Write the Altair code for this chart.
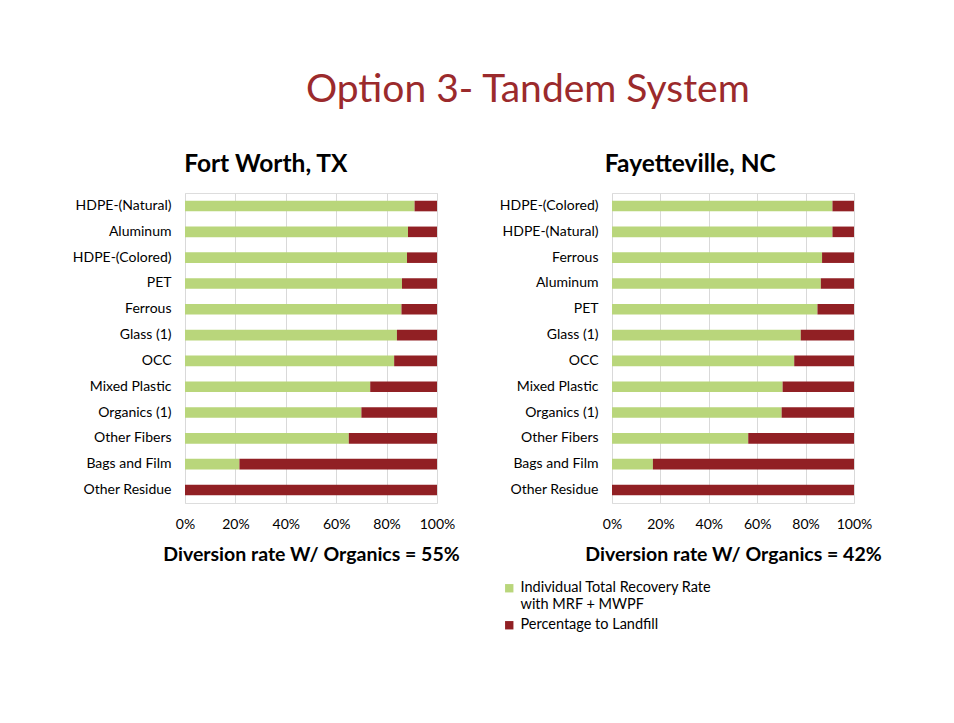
import altair as alt
import pandas as pd

# ---------------- data ----------------
series = ["Individual Total Recovery Rate with MRF + MWPF", "Percentage to Landfill"]

fw_categories = ["HDPE-(Natural)", "Aluminum", "HDPE-(Colored)", "PET", "Ferrous",
                 "Glass (1)", "OCC", "Mixed Plastic", "Organics (1)", "Other Fibers",
                 "Bags and Film", "Other Residue"]
fw_recovery = [0.911, 0.885, 0.881, 0.861, 0.859, 0.841, 0.830, 0.735, 0.700, 0.650, 0.216, 0.0]
fw_landfill = [0.089, 0.115, 0.119, 0.139, 0.141, 0.159, 0.170, 0.265, 0.300, 0.350, 0.784, 1.0]

fa_categories = ["HDPE-(Colored)", "HDPE-(Natural)", "Ferrous", "Aluminum", "PET",
                 "Glass (1)", "OCC", "Mixed Plastic", "Organics (1)", "Other Fibers",
                 "Bags and Film", "Other Residue"]
fa_recovery = [0.911, 0.911, 0.868, 0.863, 0.849, 0.780, 0.753, 0.705, 0.701, 0.563, 0.169, 0.0]
fa_landfill = [0.089, 0.089, 0.132, 0.137, 0.151, 0.220, 0.247, 0.295, 0.299, 0.437, 0.831, 1.0]

panel_titles = ["Fort Worth, TX", "Fayetteville, NC"]
diversion_texts = ["Diversion rate W/ Organics = 55%", "Diversion rate W/ Organics = 42%"]
x_ticks = [0, 0.2, 0.4, 0.6, 0.8, 1.0]

GREEN = "#B9D67B"
RED = "#912024"
FONT = "Lato"


def make_df(cats, rec, land):
    rows = []
    for c, r, l in zip(cats, rec, land):
        rows.append({"category": c, "series": series[0], "value": r, "k": 0})
        rows.append({"category": c, "series": series[1], "value": l, "k": 1})
    return pd.DataFrame(rows)


def panel(df, cats, title, xtitle, width, show_legend):
    if show_legend:
        legend = alt.Legend(
            title=None, orient="none", legendX=-110, legendY=388,
            symbolType="square", symbolSize=70, symbolStrokeWidth=0,
            labelFont=FONT, labelFontSize=14.5, labelColor="#000000",
            labelLimit=400, rowPadding=5, labelOffset=4,
            labelExpr="datum.label == 'Percentage to Landfill' ? datum.label : ['Individual Total Recovery Rate', 'with MRF + MWPF']",
        )
    else:
        legend = None
    return (
        alt.Chart(df, title=alt.TitleParams(title, fontSize=24.5, font=FONT, fontWeight="bold",
                                            color="#000000", anchor="middle", frame="bounds",
                                            offset=16))
        .mark_bar()
        .encode(
            x=alt.X("value:Q", stack="zero",
                    scale=alt.Scale(domain=[0, 1], nice=False),
                    axis=alt.Axis(values=x_ticks, format=".0%", labelFlush=False,
                                  grid=True, gridColor="#D9D9D9", domain=False, ticks=False,
                                  labelFont=FONT, labelFontSize=14, labelColor="#000000",
                                  labelPadding=14,
                                  title=xtitle, titleFont=FONT, titleFontSize=19.5,
                                  titleFontWeight="bold", titleColor="#000000",
                                  titlePadding=14)),
            y=alt.Y("category:N", sort=cats,
                    scale=alt.Scale(paddingInner=0.59, paddingOuter=0.3),
                    axis=alt.Axis(title=None, domain=False, ticks=False, labelFont=FONT,
                                  labelFontSize=14, labelColor="#000000", labelPadding=14,
                                  labelLimit=300)),
            color=alt.Color("series:N", scale=alt.Scale(domain=series, range=[GREEN, RED]),
                            legend=legend),
            order=alt.Order("k:Q"),
        )
        .properties(width=width, height=310)
    )


left = panel(make_df(fw_categories, fw_recovery, fw_landfill), fw_categories,
             panel_titles[0], diversion_texts[0], 252, False)
right = panel(make_df(fa_categories, fa_recovery, fa_landfill), fa_categories,
              panel_titles[1], diversion_texts[1], 242, True)

chart = (
    alt.hconcat(left, right, spacing=175, bounds="flush")
    .resolve_scale(color="independent", y="independent")
    .properties(
        title=alt.TitleParams("Option 3- Tandem System", fontSize=39, font=FONT,
                              fontWeight="normal", color="#9B2A2C", anchor="middle",
                              dx=51, offset=41),
        padding={"left": 63, "top": 63, "right": 20, "bottom": 20},
    )
    .configure_view(stroke=None)
    .configure(background="white")
)

chart.save("out.html", embed_options={"renderer": "svg", "actions": False})
